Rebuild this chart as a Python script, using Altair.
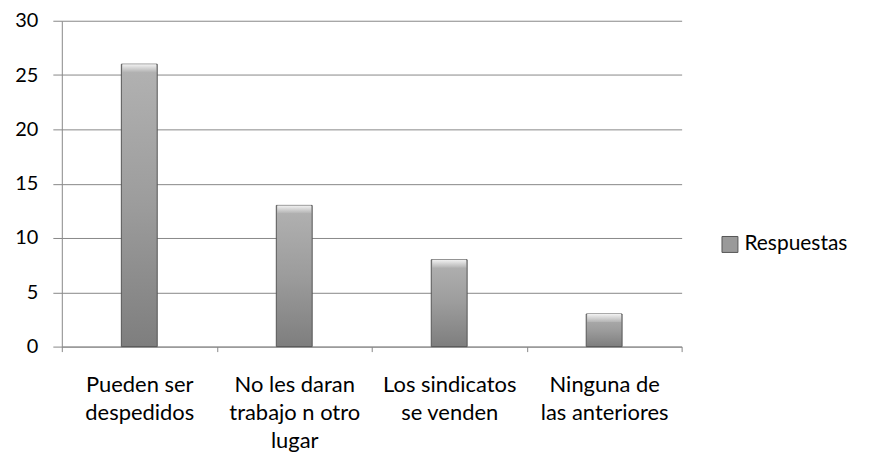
import altair as alt
import pandas as pd

categorias = ["Pueden ser|despedidos", "No les daran|trabajo n otro|lugar",
              "Los sindicatos|se venden", "Ninguna de|las anteriores"]
valores = [26, 13, 8, 3]
serie = ["Respuestas"] * 4

df = pd.DataFrame({"cat": categorias, "val": valores, "serie": serie})

FONT = "Lato"
body = alt.Gradient(
    gradient="linear", x1=0, x2=0, y1=0, y2=1,
    stops=[alt.GradientStop(color="#b2b2b2", offset=0),
           alt.GradientStop(color="#9c9c9c", offset=0.5),
           alt.GradientStop(color="#7e7e7e", offset=1)])
bevel = alt.Gradient(
    gradient="linear", x1=0, x2=0, y1=0, y2=1,
    stops=[alt.GradientStop(color="#f2f2f2", offset=0),
           alt.GradientStop(color="#b4b4b4", offset=1)])

xenc = alt.X("cat:N", sort=categorias, title=None,
             scale=alt.Scale(paddingInner=0, paddingOuter=0),
             axis=alt.Axis(labelExpr="split(datum.label, '|')", labelAngle=0,
                           labelFont=FONT, labelFontSize=22, labelColor="#000",
                           labelLineHeight=28, labelPadding=23, labelBaseline="top",
                           tickBand="extent", tickSize=5, tickColor="#888",
                           domainColor="#888", grid=False))
yenc = alt.Y("val:Q", title=None,
             scale=alt.Scale(domain=[0, 30]),
             axis=alt.Axis(values=[0, 5, 10, 15, 20, 25, 30], labelFont=FONT,
                           labelFontSize=20, labelColor="#000", tickSize=9,
                           tickColor="#888", domainColor="#888", labelPadding=15,
                           gridColor="#888", gridWidth=1))

base = alt.Chart(df)

bars = base.mark_bar(size=36, fill=body, stroke="#555555", strokeWidth=1).encode(
    x=xenc, y=yenc,
    color=alt.Color("serie:N", scale=alt.Scale(range=["#9a9a9a"]),
                    legend=alt.Legend(title=None, orient="none", legendX=660, legendY=214,
                                      symbolType="square", symbolSize=256,
                                      symbolFillColor="#9a9a9a",
                                      symbolStrokeColor="#555555", symbolStrokeWidth=1,
                                      labelFont=FONT, labelFontSize=21, labelColor="#000",
                                      labelOffset=4, labelLimit=200)),
)

tops = base.mark_bar(size=34, fill=bevel, y2Offset=8).encode(
    x=alt.X("cat:N", sort=categorias),
    y=alt.Y("val:Q"),
    y2=alt.Y2("val"),
)

chart = alt.layer(bars, tops).properties(
    width=622, height=327,
    autosize=alt.AutoSizeParams(type="none"),
    padding={"left": 54, "top": 12, "right": 180, "bottom": 110},
).configure_view(stroke=None).configure_axis(domainWidth=1)

chart.save("out.html", embed_options={"renderer": "svg", "actions": False})
